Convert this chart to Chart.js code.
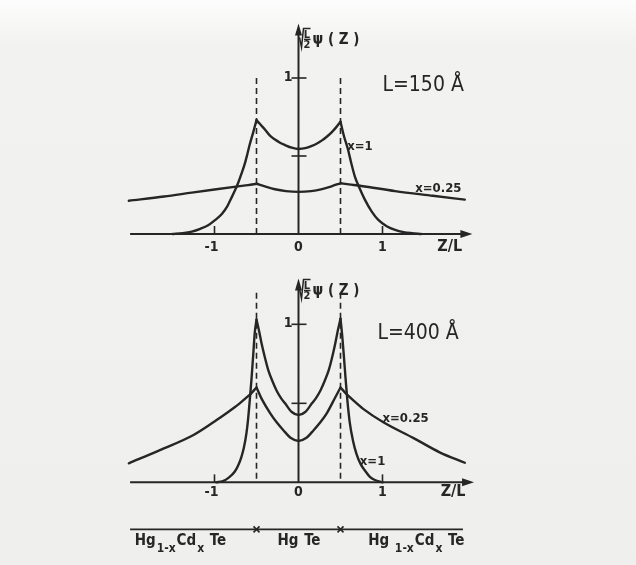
<!DOCTYPE html>
<html>
<head>
<meta charset="utf-8">
<script src="https://cdn.jsdelivr.net/npm/chart.js@4.4.1/dist/chart.umd.min.js"></script>
<style>
    html, body { margin: 0; padding: 0; }
    body {
        width: 636px; height: 565px; overflow: hidden; position: relative;
        background: linear-gradient(#fdfdfd 0px, #f2f2f0 45px, #efefed 100%);
    }
    canvas { position: absolute; left: 0; }
    #c1 { top: 0; }
    #c2 { top: 255px; }
</style>
</head>
<body>
<canvas id="c1" width="636" height="255"></canvas>
<canvas id="c2" width="636" height="310"></canvas>
<script>
// L = 150 Å panel
const zTopX1 = [-1.5, -1.38, -1.27, -1.17, -1.07, -0.99, -0.91, -0.85, -0.8, -0.76, -0.72, -0.68, -0.64, -0.61, -0.58, -0.54, -0.5,
    -0.45, -0.4, -0.34, -0.28, -0.22, -0.16, -0.08, 0, 0.08, 0.16, 0.22, 0.28, 0.34, 0.4, 0.45, 0.5,
    0.54, 0.59, 0.63, 0.67, 0.73, 0.79, 0.87, 0.95, 1.05, 1.15, 1.25, 1.35, 1.46];
const psiTopX1 = [0, 0.005, 0.015, 0.033, 0.058, 0.09, 0.13, 0.175, 0.23, 0.275, 0.325, 0.385, 0.45, 0.51, 0.575, 0.65, 0.73,
    0.7, 0.67, 0.63, 0.605, 0.585, 0.57, 0.553, 0.545, 0.55, 0.565, 0.58, 0.6, 0.625, 0.655, 0.685, 0.72,
    0.63, 0.54, 0.45, 0.37, 0.29, 0.22, 0.145, 0.09, 0.05, 0.026, 0.012, 0.005, 0];
const zTopX025 = [-2.02, -1.6, -1.27, -1, -0.72, -0.6, -0.5, -0.4, -0.28, -0.15, 0, 0.15, 0.28, 0.4, 0.5, 0.6, 0.75, 1.15, 1.6, 1.98];
const psiTopX025 = [0.213, 0.24, 0.265, 0.285, 0.305, 0.313, 0.322, 0.305, 0.287, 0.275, 0.27, 0.275, 0.288, 0.307, 0.325, 0.318, 0.308, 0.275, 0.245, 0.22];

// L = 400 Å panel
const zBotX1 = [-0.98, -0.9, -0.83, -0.76, -0.72, -0.68, -0.65, -0.62, -0.6, -0.58, -0.56, -0.54, -0.52, -0.5,
    -0.47, -0.44, -0.4, -0.36, -0.31, -0.26, -0.21, -0.16, -0.08, 0, 0.08, 0.16, 0.21, 0.26, 0.31, 0.36, 0.4, 0.44, 0.47, 0.5,
    0.52, 0.54, 0.56, 0.58, 0.61, 0.65, 0.69, 0.74, 0.79, 0.85, 0.91, 1];
const psiBotX1 = [0, 0.008, 0.03, 0.067, 0.105, 0.16, 0.22, 0.31, 0.4, 0.52, 0.65, 0.8, 0.95, 1.03,
    0.96, 0.88, 0.79, 0.71, 0.64, 0.58, 0.535, 0.5, 0.445, 0.426, 0.445, 0.5, 0.535, 0.58, 0.64, 0.71, 0.79, 0.885, 0.965, 1.035,
    0.93, 0.8, 0.66, 0.53, 0.38, 0.26, 0.18, 0.115, 0.075, 0.035, 0.015, 0];
const zBotX025 = [-2.02, -1.65, -1.25, -1, -0.93, -0.76, -0.7, -0.6, -0.56, -0.5, -0.44, -0.34, -0.26, -0.18, -0.09, 0,
    0.09, 0.18, 0.26, 0.34, 0.44, 0.5, 0.56, 0.65, 0.77, 1.01, 1.37, 1.68, 1.98];
const psiBotX025 = [0.12, 0.204, 0.3, 0.385, 0.41, 0.475, 0.5, 0.545, 0.565, 0.6, 0.53, 0.44, 0.38, 0.33, 0.28, 0.262,
    0.28, 0.33, 0.38, 0.44, 0.54, 0.6, 0.565, 0.52, 0.465, 0.38, 0.28, 0.19, 0.124];

const zTicks = [-1, 0, 1];
const zTickLabels = ['-1', '0', '1'];
const psiTicks = [0.5, 1];
const psiTickLabels = ['', '1'];
const wellEdges = [-0.5, 0.5];

const ink = '#262626';
const FONT = '"DejaVu Sans Condensed", "Liberation Sans Narrow", sans-serif';

// split a curve at the well edges so the cusps stay sharp
function curve(zs, ps) {
    const sets = [];
    let cur = [];
    zs.forEach((z, i) => {
        cur.push({ x: z, y: ps[i] });
        if (wellEdges.includes(z) && cur.length > 1) {
            sets.push(cur);
            cur = [{ x: z, y: ps[i] }];
        }
    });
    if (cur.length > 1) sets.push(cur);
    return sets.map(d => ({
        data: d,
        borderColor: ink,
        borderWidth: 2.4,
        pointRadius: 0,
        cubicInterpolationMode: 'monotone',
        borderCapStyle: 'round',
        fill: false
    }));
}

// draws text made of [text, subscript?] parts, left to right
function formula(ctx, x, y, parts, size) {
    ctx.textAlign = 'left';
    ctx.textBaseline = 'alphabetic';
    parts.forEach(([t, sub]) => {
        ctx.font = 'bold ' + (sub ? size - 3 : size) + 'px ' + FONT;
        ctx.fillText(t, x, sub ? y + 7 : y);
        x += ctx.measureText(t).width + 1;
    });
}

function frame(o) {
    return {
        id: 'frame' + o.id,
        beforeDatasetsDraw(chart) {
            const { ctx, scales: { x, y } } = chart;
            const X = v => x.getPixelForValue(v);
            const Y = v => y.getPixelForValue(v);
            const x0 = X(0), y0 = Y(0);
            ctx.save();
            ctx.strokeStyle = ink;
            ctx.fillStyle = ink;

            // dashed well boundaries
            ctx.lineWidth = 1.6;
            ctx.setLineDash([6, 4]);
            wellEdges.forEach(z => {
                ctx.beginPath();
                ctx.moveTo(X(z), Y(o.dashTop));
                ctx.lineTo(X(z), y0);
                ctx.stroke();
            });
            ctx.setLineDash([]);

            // x axis with arrow
            ctx.lineWidth = 2;
            const xa = X(o.xArrow);
            ctx.beginPath();
            ctx.moveTo(X(-2.005), y0);
            ctx.lineTo(xa - 8, y0);
            ctx.stroke();
            ctx.beginPath();
            ctx.moveTo(xa, y0);
            ctx.lineTo(xa - 12, y0 - 4);
            ctx.lineTo(xa - 12, y0 + 4);
            ctx.closePath();
            ctx.fill();

            // y axis with arrow
            const ya = Y(o.yArrow);
            ctx.beginPath();
            ctx.moveTo(x0, y0);
            ctx.lineTo(x0, ya + 8);
            ctx.stroke();
            ctx.beginPath();
            ctx.moveTo(x0, ya);
            ctx.lineTo(x0 - 3.5, ya + 12);
            ctx.lineTo(x0 + 3.5, ya + 12);
            ctx.closePath();
            ctx.fill();

            // ticks
            ctx.lineWidth = 1.6;
            zTicks.forEach(z => {
                if (z === 0) return;
                ctx.beginPath();
                ctx.moveTo(X(z), y0);
                ctx.lineTo(X(z), y0 - 8);
                ctx.stroke();
            });
            psiTicks.forEach(p => {
                ctx.beginPath();
                ctx.moveTo(x0 - 7, Y(p));
                ctx.lineTo(x0 + 8, Y(p));
                ctx.stroke();
            });

            // tick labels
            ctx.font = 'bold 14px ' + FONT;
            ctx.textAlign = 'center';
            ctx.textBaseline = 'middle';
            zTicks.forEach((z, i) => ctx.fillText(zTickLabels[i], X(z) - (z < 0 ? 3 : 0), y0 + o.labelGap));
            ctx.textAlign = 'right';
            psiTicks.forEach((p, i) => ctx.fillText(psiTickLabels[i], x0 - 6, Y(p) - 1));
            ctx.textAlign = 'center';
            ctx.font = 'bold 16px ' + FONT;
            ctx.fillText('Z/L', X(o.zlPos), y0 + o.labelGap);

            // y axis title: sqrt(L/2) psi(Z)
            const by = Y(o.yArrow) + o.titleDrop;
            ctx.lineWidth = 1.5;
            ctx.beginPath();
            ctx.moveTo(x0 + 1, by + 9);
            ctx.lineTo(x0 + 3, by + 19);
            ctx.lineTo(x0 + 5, by);
            ctx.lineTo(x0 + 12, by);
            ctx.stroke();
            ctx.font = 'bold 11px ' + FONT;
            ctx.textAlign = 'center';
            ctx.textBaseline = 'alphabetic';
            ctx.fillText('L', x0 + 8.5, by + 9.5);
            ctx.fillText('2', x0 + 8.5, by + 20);
            ctx.beginPath();
            ctx.moveTo(x0 + 5.5, by + 11);
            ctx.lineTo(x0 + 12, by + 11);
            ctx.stroke();
            ctx.font = 'bold 15px ' + FONT;
            ctx.textAlign = 'left';
            ctx.textBaseline = 'middle';
            ctx.fillText('ψ ( Z )', x0 + 14, by + 12);

            // L = ... Å
            ctx.font = '21px ' + FONT;
            ctx.textBaseline = 'alphabetic';
            ctx.fillText(o.title, X(o.titleAt[0]), Y(o.titleAt[1]));

            // curve labels
            ctx.font = 'bold 13px ' + FONT;
            o.curveLabels.forEach(([t, z, p]) => ctx.fillText(t, X(z), Y(p)));

            // layer strip
            if (o.strip) {
                const sy = y0 + 47;
                ctx.lineWidth = 1.6;
                ctx.beginPath();
                ctx.moveTo(X(-2.005), sy);
                ctx.lineTo(X(1.958), sy);
                ctx.stroke();
                wellEdges.forEach(z => {
                    ctx.beginPath();
                    ctx.moveTo(X(z) - 3, sy - 3); ctx.lineTo(X(z) + 3, sy + 3);
                    ctx.moveTo(X(z) + 3, sy - 3); ctx.lineTo(X(z) - 3, sy + 3);
                    ctx.stroke();
                });
                formula(ctx, X(-1.95), sy + 16, [['Hg', 0], ['1-x', 1], ['Cd', 0], ['x', 1], [' Te', 0]], 15);
                formula(ctx, X(-0.25), sy + 16, [['Hg', 0], [' Te', 0]], 15);
                formula(ctx, X(0.83), sy + 16, [['Hg ', 0], ['1-x', 1], ['Cd', 0], ['x', 1], [' Te', 0]], 15);
            }
            ctx.restore();
        }
    };
}

function makeChart(id, datasets, o) {
    return new Chart(document.getElementById(id), {
        type: 'line',
        data: { datasets: datasets },
        options: {
            responsive: false,
            animation: false,
            devicePixelRatio: 1,
            layout: { padding: o.padding },
            plugins: { legend: { display: false }, tooltip: { enabled: false } },
            scales: {
                x: { type: 'linear', min: -2.2, max: 2.3, display: false },
                y: { type: 'linear', min: -0.12, max: o.yMax, display: false }
            }
        },
        plugins: [frame(o)]
    });
}

makeChart('c1', [...curve(zTopX1, psiTopX1), ...curve(zTopX025, psiTopX025)], {
    id: 1,
    yMax: 1.45,
    padding: { left: 113.7, right: 144.3, top: 7.8, bottom: 2.3 },
    dashTop: 1.0,
    xArrow: 2.07,
    yArrow: 1.35,
    titleDrop: 5,
    labelGap: 13,
    zlPos: 1.8,
    title: 'L=150 Å',
    titleAt: [1.0, 0.915],
    curveLabels: [['x=1', 0.58, 0.54], ['x=0.25', 1.39, 0.27]],
    strip: false
});

makeChart('c2', [...curve(zBotX1, psiBotX1), ...curve(zBotX025, psiBotX025)], {
    id: 2,
    yMax: 1.4,
    padding: { left: 113.7, right: 144.3, top: 6.1, bottom: 63.7 },
    dashTop: 1.2,
    xArrow: 2.09,
    yArrow: 1.29,
    titleDrop: 1,
    labelGap: 10,
    zlPos: 1.84,
    title: 'L=400 Å',
    titleAt: [0.94, 0.91],
    curveLabels: [['x=0.25', 1.0, 0.38], ['x=1', 0.73, 0.11]],
    strip: true
});
</script>
</body>
</html>
